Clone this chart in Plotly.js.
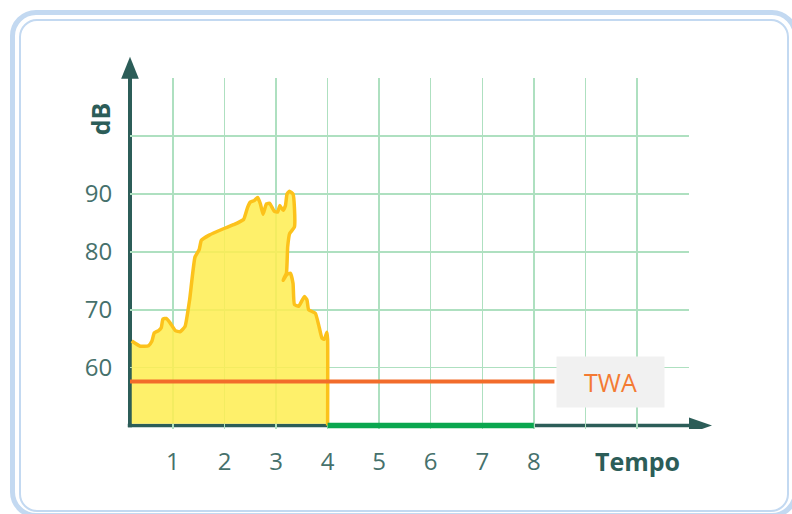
<!DOCTYPE html>
<html>
<head>
<meta charset="utf-8">
<script src="https://cdn.plot.ly/plotly-3.0.1.min.js"></script>
<style>
  html, body { margin: 0; padding: 0; background: #ffffff; }
  #wrap { position: relative; width: 792px; height: 514px; overflow: hidden; }
  #outer { position: absolute; left: 10px; top: 10px; width: 778px; height: 498px;
           border: 5px solid #c3d9f1; border-radius: 26px; }
  #inner { position: absolute; left: 19px; top: 19px; width: 766px; height: 489px;
           border: 2px solid #c3d9f1; border-radius: 18px; }
  #chart { position: absolute; left: 0; top: 0; width: 792px; height: 514px; }
</style>
</head>
<body>
<div id="wrap">
  <div id="outer"></div>
  <div id="inner"></div>
  <div id="chart"></div>
</div>
<script>
// ---- data ----
const timeTicks = [1, 2, 3, 4, 5, 6, 7, 8, 9, 10, 11];
const timeTickLabels = ['1', '2', '3', '4', '5', '6', '7', '8', '', '', ''];
const dbTicks = [60, 70, 80, 90, 100, 110];
const dbTickLabels = ['60', '70', '80', '90', '', ''];

// noise level profile (time, dB)
const noiseTime = [0.2, 0.366, 0.527, 0.593, 0.638, 0.721, 0.773, 0.806, 0.87, 0.948,
  1.048, 1.137, 1.234, 1.323, 1.427, 1.509, 1.551, 1.704, 1.979, 2.175,
  2.37, 2.448, 2.5, 2.579, 2.643, 2.696, 2.747, 2.813, 2.877, 2.922,
  2.969, 3.033, 3.072, 3.136, 3.182, 3.213, 3.26, 3.329, 3.356, 3.356,
  3.265, 3.226, 3.213, 3.201, 3.136, 3.213, 3.279, 3.329, 3.356, 3.439,
  3.549, 3.6, 3.632, 3.762, 3.826, 3.89, 3.936, 3.986, 4.0];
const noiseDb = [64.6, 63.7, 63.8, 64.6, 66.0, 66.4, 66.9, 68.4, 68.5, 67.7,
  66.4, 66.2, 67.1, 71.7, 79.1, 80.4, 82.0, 82.9, 84.0, 84.7,
  85.6, 87.7, 88.6, 88.9, 89.4, 88.3, 86.5, 88.3, 88.4, 87.7,
  87.0, 86.9, 88.0, 87.2, 88.0, 90.0, 90.5, 90.0, 87.7, 84.3,
  83.2, 80.9, 78.0, 76.3, 75.1, 76.1, 76.3, 74.6, 70.9, 70.6,
  72.3, 71.7, 70.0, 69.4, 67.4, 65.1, 64.9, 66.1, 64.9];

const axisMin = 0.167;
const axisMax = 11.01;
const dbFloor = 50;
const dbTop = 110.05;
const twaLevel = 57.6;
const twaEnd = 8.4;
const quietStart = 4;
const quietEnd = 8;

// ---- traces ----
const fillX = [noiseTime[0]].concat(noiseTime, [quietStart, noiseTime[0]]);
const fillY = [dbFloor + 0.3].concat(noiseDb, [dbFloor + 0.3, dbFloor + 0.3]);

const traces = [
  { x: fillX, y: fillY, type: 'scatter', mode: 'lines', fill: 'toself',
    fillcolor: 'rgba(254,238,82,0.86)', line: { width: 0 }, hoverinfo: 'skip' },
  { x: noiseTime.concat([quietStart]), y: noiseDb.concat([dbFloor]), type: 'scatter', mode: 'lines',
    line: { color: '#fcc21b', width: 3.5, shape: 'spline', smoothing: 0.4 }, hoverinfo: 'skip' },
  { x: [axisMin, twaEnd], y: [twaLevel, twaLevel], type: 'scatter', mode: 'lines',
    line: { color: '#f26c2b', width: 4 } },
  { x: [quietStart, quietEnd], y: [dbFloor, dbFloor], type: 'scatter', mode: 'lines',
    line: { color: '#0aa64f', width: 5.5 } }
];

const axisColor = '#2c5d58';
const gridColor = '#aee0c0';
const tickFont = { family: 'Open Sans, Noto Sans, sans-serif', size: 24, color: '#46716c' };

const layout = {
  width: 792, height: 514,
  margin: { l: 130, r: 103, t: 78, b: 85.3 },
  paper_bgcolor: 'rgba(0,0,0,0)',
  plot_bgcolor: 'rgba(0,0,0,0)',
  showlegend: false,
  xaxis: {
    range: [axisMin, axisMax], tickmode: 'array', tickvals: timeTicks, ticktext: timeTickLabels,
    showgrid: true, gridcolor: gridColor, gridwidth: 1.5, zeroline: false, showline: false,
    ticks: 'outside', ticklen: 11, tickcolor: 'rgba(0,0,0,0)', tickfont: tickFont, fixedrange: true
  },
  yaxis: {
    range: [49.4, dbTop], tickmode: 'array', tickvals: dbTicks, ticktext: dbTickLabels,
    showgrid: true, gridcolor: gridColor, gridwidth: 1.5, zeroline: false, showline: false,
    ticks: 'outside', ticklen: 12, tickcolor: 'rgba(0,0,0,0)', tickfont: tickFont, fixedrange: true
  },
  shapes: [
    { type: 'line', xref: 'paper', yref: 'y', x0: 0, x1: 0, y0: dbFloor - 0.3, y1: dbTop,
      line: { color: axisColor, width: 4 }, layer: 'below' },
    { type: 'line', xref: 'paper', yref: 'y', x0: -0.004, x1: 1.005, y0: dbFloor, y1: dbFloor,
      line: { color: axisColor, width: 3.5 }, layer: 'below' },
    { type: 'path', xref: 'paper', yref: 'paper',
      path: 'M -0.0158,0.998 L 0.0158,0.998 L 0,1.0605 Z',
      fillcolor: axisColor, line: { width: 0 }, layer: 'above' },
    { type: 'path', xref: 'paper', yref: 'y',
      path: 'M 1.0,48.62 L 1.0,51.38 L 1.0411,50 Z',
      fillcolor: axisColor, line: { width: 0 }, layer: 'above' }
  ],
  annotations: [
    { text: '<b>dB</b>', xref: 'paper', yref: 'paper', x: -0.0537, y: 0.885,
      xanchor: 'center', yanchor: 'middle', textangle: -90, showarrow: false,
      font: { family: 'Open Sans, sans-serif', size: 25, color: axisColor } },
    { text: '<b>Tempo</b>', xref: 'paper', yref: 'paper', x: 0.907, y: -0.092,
      xanchor: 'center', yanchor: 'middle', showarrow: false,
      font: { family: 'Open Sans, sans-serif', size: 25, color: axisColor } },
    { text: 'TWA', xref: 'paper', yref: 'y', x: 0.8596, y: twaLevel,
      xanchor: 'center', yanchor: 'middle', showarrow: false,
      width: 107, height: 50, borderpad: 0, bgcolor: '#f1f1f1',
      font: { family: 'Open Sans, sans-serif', size: 25, color: '#f47a33' } }
  ]
};

Plotly.newPlot('chart', traces, layout, { displayModeBar: false, staticPlot: true });
</script>
</body>
</html>
